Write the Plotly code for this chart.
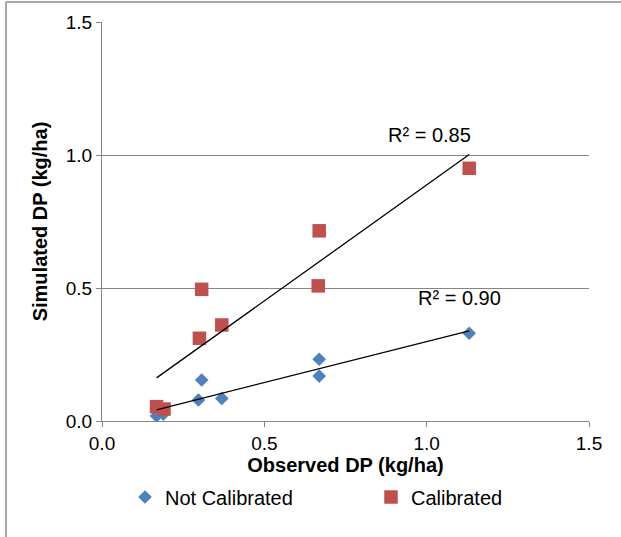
import numpy as np
import plotly.graph_objects as go

# ---- data ----
obs_not_cal = [0.168, 0.189, 0.297, 0.307, 0.369, 0.669, 0.669, 1.131]
sim_not_cal = [0.019, 0.026, 0.079, 0.154, 0.085, 0.232, 0.169, 0.330]

obs_cal = [0.168, 0.191, 0.300, 0.307, 0.369, 0.666, 0.669, 1.131]
sim_cal = [0.054, 0.045, 0.311, 0.495, 0.361, 0.508, 0.715, 0.950]

r2_labels = ["R² = 0.90", "R² = 0.85"]
tick_vals = [0.0, 0.5, 1.0, 1.5]
tick_text = ["0.0", "0.5", "1.0", "1.5"]

BLUE = "#4F81BD"
RED = "#C0504D"
GRID = "#868686"
FONT = "Liberation Sans, Arial, sans-serif"

fig = go.Figure()

fig.add_trace(go.Scatter(
    x=obs_not_cal, y=sim_not_cal, mode="markers", name="Not Calibrated",
    legend="legend",
    marker=dict(symbol="diamond", size=10.5, color=BLUE, line=dict(width=0)),
))
fig.add_trace(go.Scatter(
    x=obs_cal, y=sim_cal, mode="markers", name="Calibrated",
    legend="legend2",
    marker=dict(symbol="square", size=13.5, color=RED, line=dict(width=0)),
))

# linear trendlines fitted to each series
for xs, ys in [(obs_not_cal, sim_not_cal), (obs_cal, sim_cal)]:
    m, b = np.polyfit(xs, ys, 1)
    xx = np.array([min(xs), max(xs)])
    fig.add_trace(go.Scatter(
        x=xx, y=m * xx + b, mode="lines", showlegend=False,
        line=dict(color="black", width=1.3), hoverinfo="skip",
    ))

legend_common = dict(
    orientation="h", xref="container", yref="container",
    y=1 - 497 / 537, xanchor="left", yanchor="middle",
    font=dict(size=20), bgcolor="rgba(0,0,0,0)",
)

fig.update_layout(
    width=621, height=537,
    margin=dict(l=102, r=32, t=22, b=116, autoexpand=False),
    paper_bgcolor="white", plot_bgcolor="white",
    font=dict(family=FONT, size=20, color="black"),
    showlegend=True,
    legend=dict(x=125 / 621, **legend_common),
    legend2=dict(x=371 / 621, **legend_common),
    xaxis=dict(
        range=[0, 1.5], tickvals=tick_vals, ticktext=tick_text,
        showgrid=False, zeroline=False,
        showline=True, linecolor=GRID, linewidth=1,
        ticks="outside", ticklen=5, tickcolor=GRID,
        tickfont=dict(size=19), automargin=False,
        title=dict(text="<b>Observed DP (kg/ha)</b>", standoff=4,
                   font=dict(size=20)),
        fixedrange=True,
    ),
    yaxis=dict(
        range=[0, 1.5], tickvals=tick_vals, ticktext=tick_text,
        showgrid=True, gridcolor=GRID, gridwidth=1, zeroline=False,
        showline=True, linecolor=GRID, linewidth=1,
        ticks="outside", ticklen=5, tickcolor=GRID,
        tickfont=dict(size=19), automargin=False,
        title=dict(text="<b>Simulated DP (kg/ha)</b>", standoff=12,
                   font=dict(size=20)),
        fixedrange=True,
    ),
    annotations=[
        dict(x=1.10, y=0.462, xref="x", yref="y", text=r2_labels[0],
             showarrow=False, font=dict(size=20)),
        dict(x=1.01, y=1.075, xref="x", yref="y", text=r2_labels[1],
             showarrow=False, font=dict(size=20)),
    ],
    shapes=[
        dict(type="line", xref="paper", yref="paper",
             x0=(6 - 102) / 487, x1=(640 - 102) / 487,
             y0=(421 - 2) / 399, y1=(421 - 2) / 399,
             line=dict(color="#8C8C8C", width=1.5)),
        dict(type="line", xref="paper", yref="paper",
             x0=(6 - 102) / 487, x1=(6 - 102) / 487,
             y0=(421 - 2) / 399, y1=(421 - 560) / 399,
             line=dict(color="#8C8C8C", width=1.5)),
    ],
)

fig.write_html("out.html")
